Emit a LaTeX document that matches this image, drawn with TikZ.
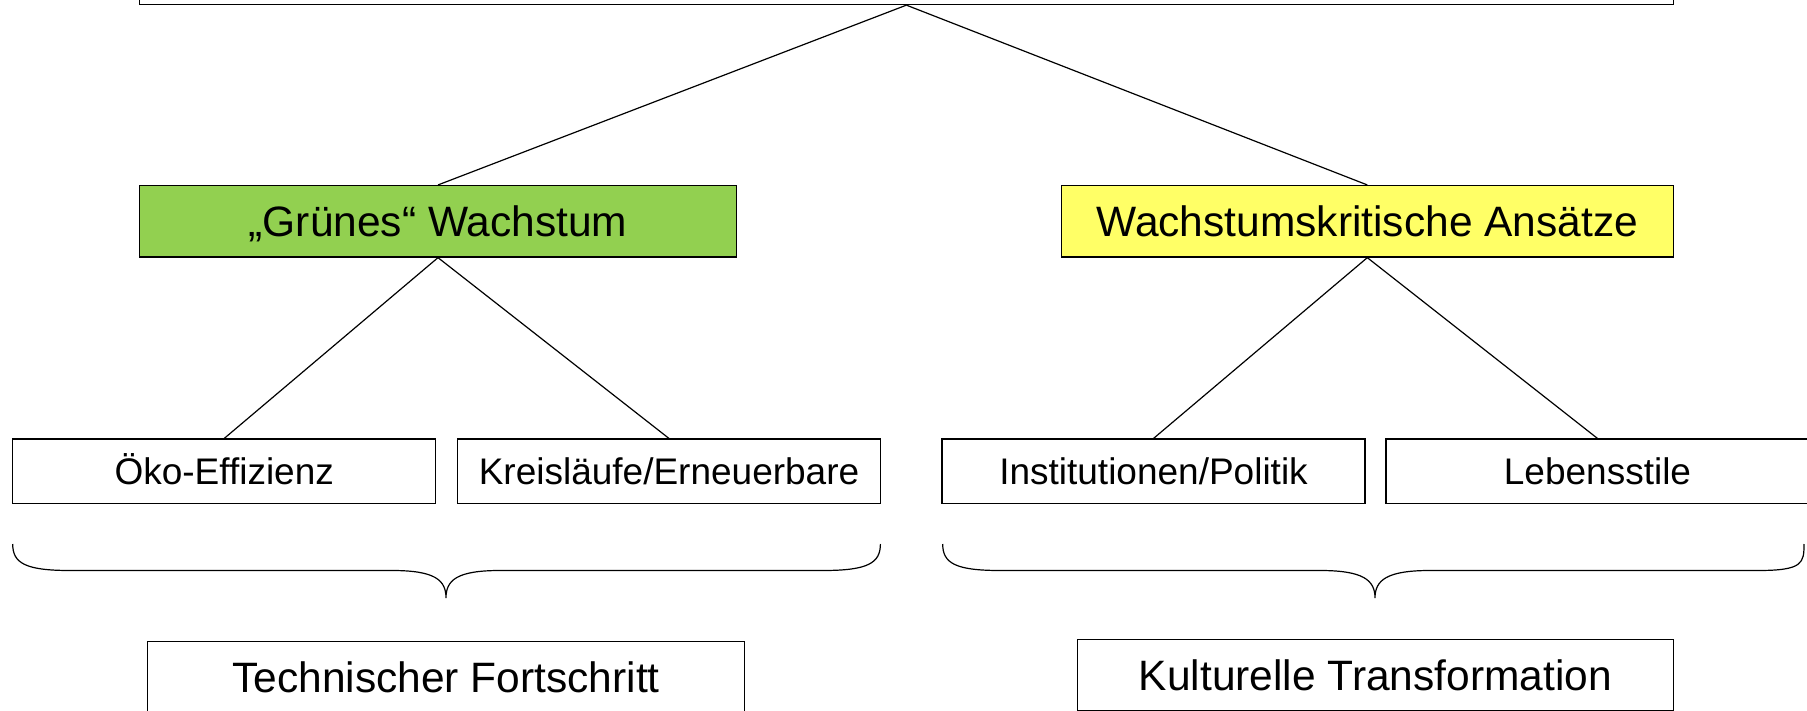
\documentclass[tikz,border=0pt]{standalone}
\usepackage{fontspec}
\setmainfont{Liberation Sans}
\definecolor{gruen}{RGB}{146,208,80}
\definecolor{gelb}{RGB}{255,255,102}
\begin{document}
\begin{tikzpicture}[x=1pt, y=-1pt, line width=1.2pt,
  bigbox/.style={draw, inner sep=0pt, minimum height=71.5pt, text height=30.4pt, text depth=0pt, font=\fontsize{42.5}{50}\selectfont},
  smallbox/.style={draw, inner sep=0pt, minimum width=423pt, minimum height=64.5pt, text height=26.5pt, text depth=0pt, font=\fontsize{37}{44}\selectfont}]
  \clip (0,0) rectangle (1807,711);
  \node [bigbox, minimum width=1534pt] (top) at (906.4,-31.2) {};
  \node [bigbox, fill=gruen, minimum width=597pt] (gw) at (438,221.3) {„Grünes“ Wachstum};
  \node [bigbox, fill=gelb, minimum width=612pt] (wk) at (1367.3,221.3) {Wachstumskritische Ansätze};
  \node [smallbox] (oeko) at (224.2,471.3) {Öko-Effizienz};
  \node [smallbox] (kreis) at (669,471.3) {Kreisläufe/Erneuerbare};
  \node [smallbox] (inst) at (1153.5,471.3) {Institutionen/Politik};
  \node [smallbox] (leben) at (1597.5,471.3) {Lebensstile};
  \node [bigbox, minimum width=597pt] (tech) at (446,677.6) {Technischer Fortschritt};
  \node [bigbox, minimum width=596pt] (kult) at (1375.4,675.3) {Kulturelle Transformation};
  \path (top.south) edge (gw.north) edge (wk.north)
        (gw.south) edge (oeko.north) edge (kreis.north)
        (wk.south) edge (inst.north) edge (leben.north);
  % braces
  \draw (12.7,544) .. controls (12.7,563) and (25,570.5) .. (70,570.5) -- (392,570.5)
    .. controls (435,570.5) and (446,580) .. (446,598)
    .. controls (446,580) and (457,570.5) .. (500,570.5) -- (823,570.5)
    .. controls (868,570.5) and (880.4,563) .. (880.4,544);
  \draw (942.7,544) .. controls (942.7,563) and (955,570.5) .. (1000,570.5) -- (1320,570.5)
    .. controls (1363,570.5) and (1375,580) .. (1375,598)
    .. controls (1375,580) and (1387,570.5) .. (1430,570.5) -- (1758,570.5)
    .. controls (1803,570.5) and (1804,563) .. (1804,544);
\end{tikzpicture}
\end{document}
